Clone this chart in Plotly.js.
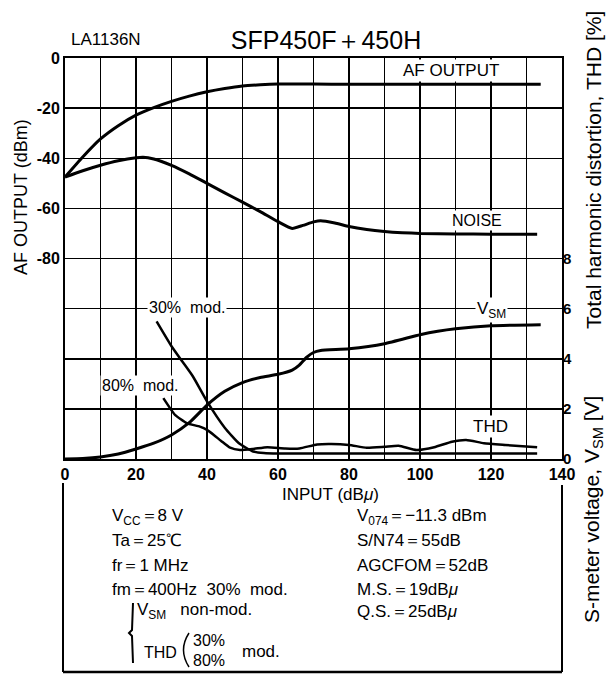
<!DOCTYPE html>
<html><head><meta charset="utf-8">
<script src="https://cdn.plot.ly/plotly-3.0.1.min.js"></script>
<style>html,body{margin:0;padding:0;background:#fff}</style>
</head><body>
<div id="chart" style="width:616px;height:682px"></div>
<script>
// ---- data ----
const xTickVals = [0,20,40,60,80,100,120,140];
const xTickText = ['0','20','40','60','80','100','120','140'];
const xMinorGrid = [10,30,50,70,90,110,130];
const yLeftTickVals = [0,-20,-40,-60,-80];
const yLeftTickText = ['0','-20','-40','-60','-80'];
const yRightTickVals = [0,2,4,6,8];
const yRightTickText = ['0','2','4','6','8'];

// AF OUTPUT [dBm], left axis
const afX = [0,5,10,15,20,25,30,35,40,45,50,55,60,70,80,100,120,134];
const afY = [-47.5,-39.5,-32.3,-27,-22.8,-19.8,-17.3,-15.2,-13.5,-12.2,-11.2,-10.7,-10.4,-10.4,-10.5,-10.5,-10.5,-10.5];
// NOISE [dBm], left axis
const noiseX = [0,5,10,15,20,22,25,30,35,40,45,50,55,60,64,67,70,72,76,80,85,90,95,100,110,120,133];
const noiseY = [-47.5,-45,-42.8,-41,-39.8,-39.6,-40.3,-42.8,-46.2,-50,-53.8,-57.5,-61.3,-65.3,-68,-66.8,-65.4,-64.9,-65.8,-67.2,-68.4,-69.2,-69.7,-70,-70.2,-70.3,-70.3];
// S-meter voltage VSM [V], right axis
const vsmX = [0,5,10,15,20,25,30,35,40,45,50,55,60,64,66,68,70,72,80,90,100,105,110,120,134];
const vsmY = [0,0.02,0.08,0.2,0.4,0.63,0.96,1.45,2.15,2.7,3.05,3.25,3.38,3.55,3.75,4.05,4.25,4.33,4.4,4.6,4.96,5.1,5.2,5.32,5.36];
// THD 30% mod. [%], right axis
const thd30X = [25.8,30,33,36,40,45,49,53,56,60,70,80,90,100,110,120,133];
const thd30Y = [5.49,4.5,3.9,3.3,2.3,1.25,0.63,0.3,0.24,0.22,0.22,0.22,0.22,0.22,0.22,0.22,0.22];
// THD 80% mod. [%], right axis
const thd80X = [27.7,31,34.3,38,40,42,44,46.5,49.3,53,57,62,66,71,75,80,85,90,94,99,104,109,113,118,124,133];
const thd80Y = [2.43,1.76,1.43,1.29,1.16,0.95,0.72,0.45,0.36,0.4,0.47,0.42,0.42,0.58,0.6,0.56,0.45,0.49,0.53,0.36,0.47,0.69,0.76,0.63,0.56,0.47];

// ---- layout helpers (pixel -> paper) ----
const PL = 65, PR = 562, PT = 58, PB = 459;
const fx = x => (x - PL) / (PR - PL);
const fy = y => (PB - y) / (PB - PT);
const FONT = 'Liberation Sans, Arial, sans-serif';

function ann(text, x, y, size, extra) {
  return Object.assign({
    text: text, xref: 'paper', yref: 'paper', x: fx(x), y: fy(y),
    showarrow: false, xanchor: 'center', yanchor: 'middle',
    font: {family: FONT, size: size, color: '#000'}
  }, extra || {});
}
const wb = {bgcolor: '#fff', borderpad: 1};

const lineStyle = {color: '#000', width: 3, shape: 'spline', smoothing: 0.5};
const traces = [
  {x: afX, y: afY, type: 'scatter', mode: 'lines', line: lineStyle, yaxis: 'y', name: 'AF OUTPUT', hoverinfo: 'skip'},
  {x: noiseX, y: noiseY, type: 'scatter', mode: 'lines', line: lineStyle, yaxis: 'y', name: 'NOISE', hoverinfo: 'skip'},
  {x: vsmX, y: vsmY, type: 'scatter', mode: 'lines', line: lineStyle, yaxis: 'y2', name: 'VSM', hoverinfo: 'skip'},
  {x: thd30X, y: thd30Y, type: 'scatter', mode: 'lines', line: Object.assign({}, lineStyle, {width: 2.5}), yaxis: 'y2', name: 'THD 30%', hoverinfo: 'skip'},
  {x: thd80X, y: thd80Y, type: 'scatter', mode: 'lines', line: Object.assign({}, lineStyle, {width: 2.5}), yaxis: 'y2', name: 'THD 80%', hoverinfo: 'skip'}
];

const tickFont = {family: FONT, size: 16, color: '#000', weight: 'bold'};

const pxPath = pts => pts.map((p, i) => (i === 0 ? 'M ' : 'L ') + fx(p[0]) + ' ' + fy(p[1])).join(' ');

const layout = {
  width: 616, height: 682,
  margin: {l: PL, r: 616 - PR, t: PT, b: 682 - PB, pad: 0},
  paper_bgcolor: '#fff', plot_bgcolor: '#fff',
  showlegend: false,
  font: {family: FONT, color: '#000'},
  title: {text: 'SFP450F＋450H', font: {family: FONT, size: 25, color: '#000'},
          xref: 'paper', x: fx(326), xanchor: 'center', yref: 'container', y: 1 - 40 / 682, yanchor: 'middle'},
  xaxis: {range: [0, 140], tickmode: 'array', tickvals: xTickVals, ticktext: xTickText, ticks: '',
          showgrid: true, gridcolor: '#000', gridwidth: 1.5, zeroline: false,
          minor: {tickmode: 'array', tickvals: xMinorGrid, showgrid: true, gridcolor: '#000', gridwidth: 1.5, ticks: ''},
          showline: true, mirror: true, linecolor: '#000', linewidth: 2,
          tickfont: tickFont, fixedrange: true},
  yaxis: {range: [-160, 0], tickmode: 'array', tickvals: yLeftTickVals, ticktext: yLeftTickText, ticks: '',
          showgrid: true, gridcolor: '#000', gridwidth: 1.5, zeroline: false,
          showline: true, mirror: true, linecolor: '#000', linewidth: 2,
          tickfont: tickFont, fixedrange: true},
  yaxis2: {range: [0, 16], tickmode: 'array', tickvals: yRightTickVals, ticktext: yRightTickText, ticks: '',
           overlaying: 'y', side: 'right', showgrid: true, gridcolor: '#000', gridwidth: 1.5,
           zeroline: false, showline: false, tickfont: Object.assign({}, tickFont, {size: 15}), fixedrange: true},
  annotations: [
    ann('LA1136N', 106, 40, 17),
    ann('AF OUTPUT', 451, 70, 17, wb),
    ann('NOISE', 477, 220, 16, wb),
    ann('30%  mod.', 187, 307, 16, wb),
    ann('80%  mod.', 140, 385, 16, wb),
    ann('V<sub>SM</sub>', 491, 310, 17, wb),
    ann('THD', 490, 426, 17, wb),
    ann('INPUT (dB<i>μ</i>)', 330, 494, 17),
    ann('AF OUTPUT (dBm)', 21, 197, 18, {textangle: -90}),
    ann('S-meter voltage, V<sub>SM</sub> [V]', 593, 510, 21, {textangle: -90}),
    ann('Total harmonic distortion, THD [%]', 593, 170, 21, {textangle: -90}),
    // condition block, left column
    ann('V<sub>CC</sub>＝8 V', 110, 517, 17, {xanchor: 'left'}),
    ann('Ta＝25℃', 110, 540, 17, {xanchor: 'left'}),
    ann('fr＝1 MHz', 110, 565, 17, {xanchor: 'left'}),
    ann('fm＝400Hz  30%  mod.', 110, 589, 17, {xanchor: 'left'}),
    ann('V<sub>SM</sub>   non-mod.', 135, 611, 17, {xanchor: 'left'}),
    ann('THD', 142, 652, 16, {xanchor: 'left'}),
    ann('30%', 191, 640, 16, {xanchor: 'left'}),
    ann('80%', 191, 660, 16, {xanchor: 'left'}),
    ann('mod.', 240, 651, 17, {xanchor: 'left'}),
    // condition block, right column
    ann('V<sub>074</sub>＝−11.3 dBm', 355, 517, 17, {xanchor: 'left'}),
    ann('S/N74＝55dB', 355, 540, 17, {xanchor: 'left'}),
    ann('AGCFOM＝52dB', 355, 565, 17, {xanchor: 'left'}),
    ann('M.S.＝19dB<i>μ</i>', 355, 589, 17, {xanchor: 'left'}),
    ann('Q.S.＝25dB<i>μ</i>', 355, 611, 17, {xanchor: 'left'})
  ],
  shapes: [
    {type: 'line', xref: 'paper', yref: 'paper', x0: fx(63), x1: fx(63), y0: fy(483), y1: fy(672), line: {color: '#000', width: 2}},
    {type: 'line', xref: 'paper', yref: 'paper', x0: fx(562), x1: fx(562), y0: fy(485), y1: fy(672), line: {color: '#000', width: 2}},
    {type: 'line', xref: 'paper', yref: 'paper', x0: fx(63), x1: fx(562), y0: fy(672), y1: fy(672), line: {color: '#000', width: 2.5}},
    // brace grouping VSM / THD
    {type: 'path', xref: 'paper', yref: 'paper', line: {color: '#000', width: 2},
     path: pxPath([[133, 603], [132, 630], [129, 633], [132, 636], [133, 663]])},
    // parenthesis around 30% / 80%
    {type: 'path', xref: 'paper', yref: 'paper', line: {color: '#000', width: 1.5},
     path: 'M ' + fx(189) + ' ' + fy(633) + ' Q ' + fx(178) + ' ' + fy(650) + ' ' + fx(189) + ' ' + fy(667)}
  ]
};

Plotly.newPlot('chart', traces, layout, {displayModeBar: false, staticPlot: true});
</script>
</body></html>
